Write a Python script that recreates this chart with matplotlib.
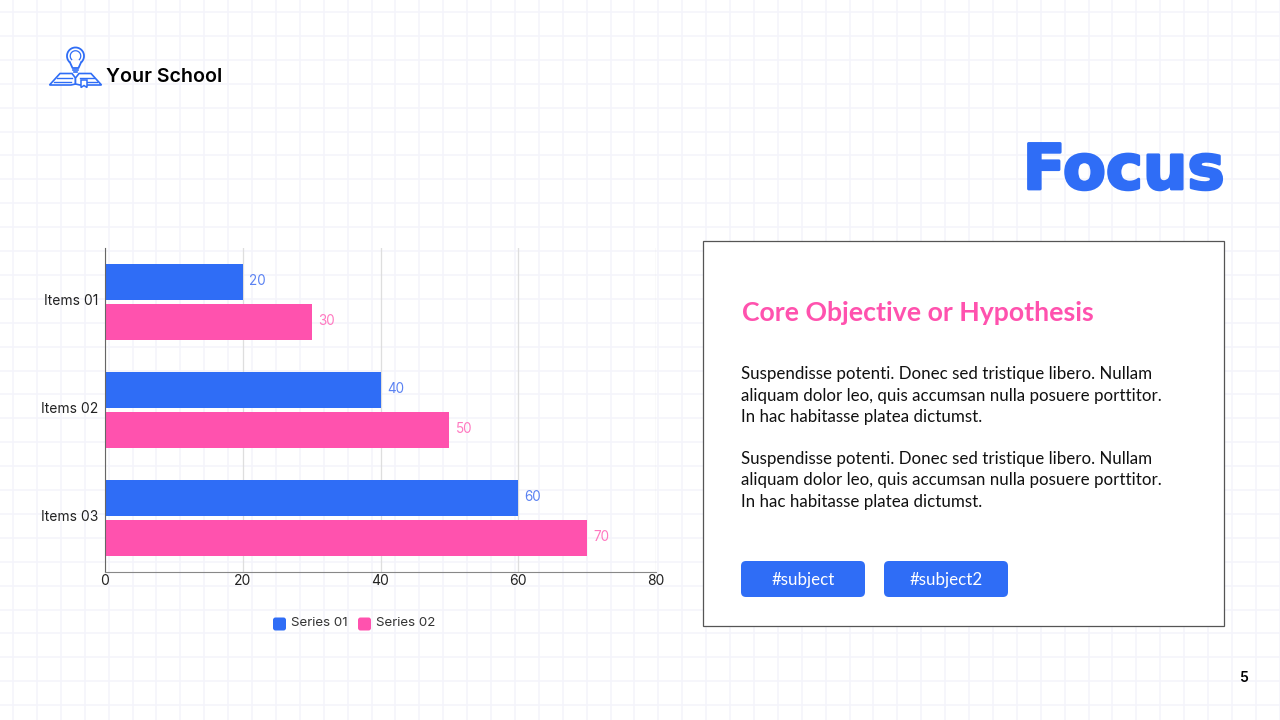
import numpy as np
import matplotlib
matplotlib.use("Agg")
import matplotlib.pyplot as plt
import matplotlib.patheffects as pe
from matplotlib.patches import Arc, FancyBboxPatch, Polygon, Rectangle
from matplotlib.transforms import ScaledTranslation

# chart values
items = ["Items 01", "Items 02", "Items 03"]
series_names = ["Series 01", "Series 02"]
series_01 = [20, 40, 60]
series_02 = [30, 50, 70]
x_ticks = [0, 20, 40, 60, 80]

# slide texts
school = "Your School"
title = "Focus"
heading = "Core Objective or Hypothesis"
paragraph = ["Suspendisse potenti. Donec sed tristique libero. Nullam",
             "aliquam dolor leo, quis accumsan nulla posuere porttitor.",
             "In hac habitasse platea dictumst."]
tags = ["#subject", "#subject2"]
page = "5"

BLUE = "#2F6DF6"
PINK = "#FF52AE"
LABEL_FONT = "Inter"
BODY_FONT = "Lato"

fig = plt.figure(figsize=(12.8, 7.2), dpi=100, facecolor="white")

# background layer in pixel coordinates
bg = fig.add_axes([0, 0, 1, 1], zorder=0)
bg.set_xlim(0, 1280)
bg.set_ylim(720, 0)
bg.axis("off")
for x in np.arange(13, 1280, 23.9):
    bg.axvline(x, color="#F4F4FB", lw=1.1)
for y in np.arange(12, 720, 23.9):
    bg.axhline(y, color="#F4F4FB", lw=1.1)

# white card
bg.add_patch(Rectangle((703, 241), 521, 385, fc="white", ec="#555555", lw=0.9, zorder=3))

# logo: bulb
bg.add_patch(Arc((75.5, 56), 17, 17, theta1=130, theta2=50, ec=BLUE, lw=1.3, zorder=3))
bg.plot([70, 72.5, 78.5, 81], [62.5, 68, 68, 62.5], color=BLUE, lw=1.3, zorder=3)
bg.add_patch(Arc((75.5, 56), 10.5, 10.5, theta1=130, theta2=50, ec=BLUE, lw=0.9, zorder=3))
bg.plot([73, 78], [70, 70], color=BLUE, lw=1.2, zorder=3)
bg.plot([74, 77], [72, 72], color=BLUE, lw=1.2, zorder=3)
# logo: book
bg.add_patch(Polygon([(49.5, 85), (60, 73.5), (72, 73.5), (75.5, 78), (75.5, 84), (71, 85)],
                     fc="white", ec=BLUE, lw=1.2, zorder=3))
bg.add_patch(Polygon([(101.5, 85), (91, 73.5), (79, 73.5), (75.5, 78), (75.5, 84), (80, 85)],
                     fc="white", ec=BLUE, lw=1.2, zorder=3))
bg.plot([54, 71], [81.5, 81.5], color=BLUE, lw=1, zorder=4)
bg.plot([57, 72], [77.5, 77.5], color=BLUE, lw=1, zorder=4)
bg.plot([84, 97], [81.5, 81.5], color=BLUE, lw=1, zorder=4)
bg.plot([80, 94], [77.5, 77.5], color=BLUE, lw=1, zorder=4)
bg.add_patch(Polygon([(81, 80), (87, 80), (87, 87.5), (84, 85.5), (81, 87.5)],
                     fc="white", ec=BLUE, lw=1.1, zorder=5))

bg.text(106, 77.5, school, fontsize=14.1, family=LABEL_FONT, weight="semibold", color="black", va="center", zorder=5)
bg.text(1224.5, 189, title, fontsize=45, family="DejaVu Sans", weight="bold", color=BLUE, ha="right", va="baseline", zorder=5,
        path_effects=[pe.withStroke(linewidth=2, foreground=BLUE)])
bg.text(742, 313, heading, fontsize=19.2, family=BODY_FONT, weight="bold", color=PINK, va="center", zorder=5)

for top in [374, 459]:
    for i, line in enumerate(paragraph):
        bg.text(741, top + i * 21.5, line, fontsize=12.15, family=BODY_FONT, color="#111111", va="center", zorder=5)

for left, tag in zip([741, 884], tags):
    bg.add_patch(FancyBboxPatch((left + 5, 561 + 5), 114, 26, boxstyle="round,pad=5,rounding_size=5",
                                fc=BLUE, ec="none", zorder=4))
    bg.text(left + 62, 580, tag, fontsize=12.2, family=BODY_FONT, color="white", ha="center", va="center", zorder=5)

bg.text(1244, 677.5, page, fontsize=10, family=LABEL_FONT, weight="semibold", color="black", ha="center", va="center", zorder=5)

# legend
for left, name, color in zip([273, 358], series_names, [BLUE, PINK]):
    bg.add_patch(FancyBboxPatch((left + 2.5, 617.5 + 2.5), 8, 8, boxstyle="round,pad=2.5,rounding_size=2.5",
                                fc=color, ec="none", zorder=4))
    bg.text(left + 18, 622.5, name, fontsize=9.6, family=LABEL_FONT, color="#333333", va="center", zorder=5)

# chart
ax = fig.add_axes([105 / 1280, (720 - 572) / 720, 551 / 1280, 324 / 720], zorder=1)
ax.patch.set_alpha(0)
pos = np.arange(len(items))
bar_h = 1 / 3
bars_1 = ax.barh(pos - bar_h / 2 - 0.0185, series_01, height=bar_h, color=BLUE)
bars_2 = ax.barh(pos + bar_h / 2 + 0.0185, series_02, height=bar_h, color=PINK)
labels_1 = ax.bar_label(bars_1, padding=4.5, fontsize=9.7, family=LABEL_FONT, color="#5B82F2")
labels_2 = ax.bar_label(bars_2, padding=4.5, fontsize=9.7, family=LABEL_FONT, color="#FF79C0")
for lab in list(labels_1) + list(labels_2):
    lab.xyann = (4.5, 1)

ax.set_xlim(0, 80)
ax.set_ylim(2.5, -0.5)
ax.set_xticks(x_ticks)
ax.set_yticks(pos)
ax.set_yticklabels(items)
ax.tick_params(length=0, labelsize=10, labelcolor="#222222", pad=5)
ax.tick_params(axis="x", pad=1.5)
lift = ScaledTranslation(0, 1.5 / 72, fig.dpi_scale_trans)
for lab in ax.get_yticklabels():
    lab.set_transform(lab.get_transform() + lift)
for lab in ax.get_xticklabels() + ax.get_yticklabels():
    lab.set_family(LABEL_FONT)
ax.grid(axis="x", color="#DEDEDE", lw=0.9)
ax.set_axisbelow(True)
ax.spines["top"].set_visible(False)
ax.spines["right"].set_visible(False)
ax.spines["left"].set_color("#666666")
ax.spines["bottom"].set_color("#888888")

fig.savefig("out.png", dpi=100)
